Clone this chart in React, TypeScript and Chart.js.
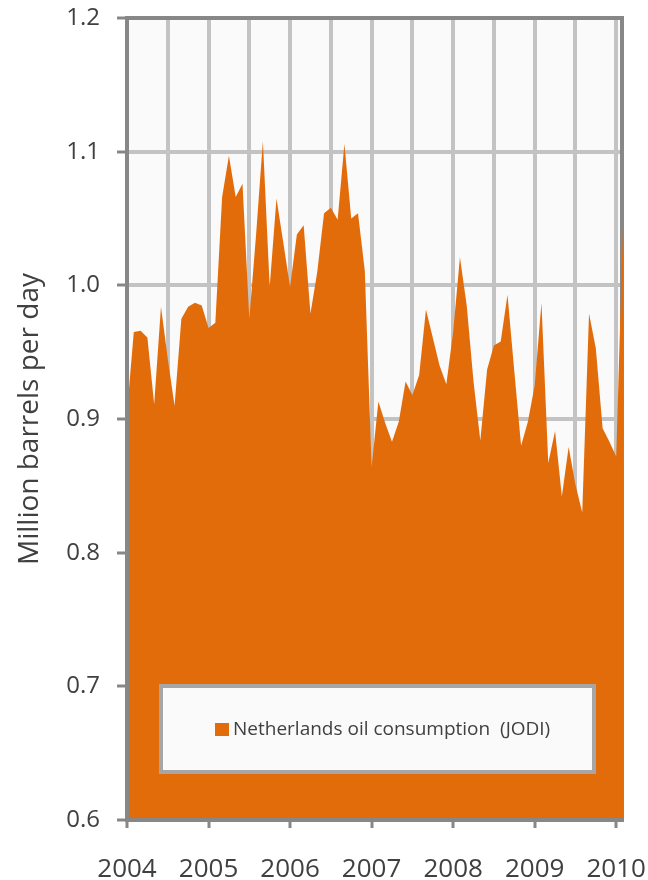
import React, { useEffect, useRef } from "react";
import { Chart, registerables } from "chart.js";

Chart.register(...registerables);

// ---- data (million barrels per day, monthly, Jan 2004 – Feb 2010) ----
const startYear = 2004;
const yearTicks = [2004, 2005, 2006, 2007, 2008, 2009, 2010];
const halfYearTicks = [2004.5, 2005.5, 2006.5, 2007.5, 2008.5, 2009.5];
const yTicks = [0.6, 0.7, 0.8, 0.9, 1.0, 1.1, 1.2];

const consumption2004 = [0.905, 0.965, 0.966, 0.961, 0.911, 0.984, 0.945, 0.910, 0.975, 0.984, 0.987, 0.985];
const consumption2005 = [0.968, 0.972, 1.066, 1.097, 1.066, 1.076, 0.975, 1.038, 1.108, 0.999, 1.065, 1.032];
const consumption2006 = [0.999, 1.038, 1.045, 0.979, 1.010, 1.054, 1.058, 1.049, 1.106, 1.050, 1.054, 1.011];
const consumption2007 = [0.864, 0.913, 0.897, 0.883, 0.898, 0.928, 0.918, 0.933, 0.982, 0.961, 0.940, 0.926];
const consumption2008 = [0.965, 1.021, 0.985, 0.928, 0.884, 0.937, 0.955, 0.958, 0.993, 0.936, 0.880, 0.898];
const consumption2009 = [0.925, 0.987, 0.867, 0.891, 0.842, 0.879, 0.851, 0.830, 0.979, 0.953, 0.893, 0.883];
const consumption2010 = [0.872, 1.044];

const seriesLabel = "Netherlands oil consumption  (JODI)";
const yAxisTitle = "Million barrels per day";

const ORANGE = "#E36C0A";
const AXIS_GREY = "#878787";
const GRID_GREY = "#C3C3C3";
const TEXT = "#404040";
const FONT = "'Open Sans', 'DejaVu Sans', sans-serif";

const allValues = [
  ...consumption2004,
  ...consumption2005,
  ...consumption2006,
  ...consumption2007,
  ...consumption2008,
  ...consumption2009,
  ...consumption2010,
];
const points = allValues.map((v, i) => ({ x: startYear + i / 12, y: v }));

const plotBackground = {
  id: "plotBackground",
  beforeDraw(chart: any) {
    const { ctx, chartArea } = chart;
    ctx.save();
    ctx.fillStyle = "#FAFAFA";
    ctx.fillRect(chartArea.left, chartArea.top, chartArea.right - chartArea.left, chartArea.bottom - chartArea.top);
    ctx.restore();
  },
};

// right edge of the frame sits under the area, the other three edges over it
const plotFrame = {
  id: "plotFrame",
  beforeDatasetsDraw(chart: any) {
    const { ctx, chartArea } = chart;
    ctx.save();
    ctx.strokeStyle = AXIS_GREY;
    ctx.lineWidth = 4;
    ctx.beginPath();
    ctx.moveTo(chartArea.right - 1, chartArea.top - 2);
    ctx.lineTo(chartArea.right - 1, chartArea.bottom);
    ctx.stroke();
    ctx.restore();
  },
  afterDatasetsDraw(chart: any) {
    const { ctx, chartArea } = chart;
    ctx.save();
    ctx.strokeStyle = AXIS_GREY;
    ctx.lineWidth = 4;
    ctx.beginPath();
    ctx.moveTo(chartArea.right + 1, chartArea.top);
    ctx.lineTo(chartArea.left, chartArea.top);
    ctx.lineTo(chartArea.left, chartArea.bottom);
    ctx.lineTo(chartArea.right + 1, chartArea.bottom);
    ctx.stroke();
    ctx.restore();
  },
};

const boxedLegend = {
  id: "boxedLegend",
  afterDraw(chart: any) {
    const { ctx } = chart;
    const ds = chart.data.datasets[0];
    ctx.save();
    ctx.fillStyle = "#FAFAFA";
    ctx.fillRect(161, 686, 433, 86);
    ctx.strokeStyle = "#A6A6A6";
    ctx.lineWidth = 4;
    ctx.strokeRect(161, 686, 433, 86);
    ctx.fillStyle = ds.backgroundColor;
    ctx.fillRect(215, 723, 14, 13);
    ctx.fillStyle = TEXT;
    ctx.font = `19px ${FONT}`;
    ctx.textBaseline = "middle";
    ctx.textAlign = "left";
    ctx.fillText(ds.label, 233, 730);
    ctx.restore();
  },
};

const zeroPadding = (scale: any) => {
  scale.paddingTop = 0;
  scale.paddingBottom = 0;
  scale.paddingLeft = 0;
  scale.paddingRight = 0;
};

export default function App() {
  const canvasRef = useRef<HTMLCanvasElement | null>(null);

  useEffect(() => {
    if (!canvasRef.current) return;
    const chart = new Chart(canvasRef.current, {
      type: "line",
      data: {
        datasets: [
          {
            label: seriesLabel,
            data: points,
            backgroundColor: ORANGE,
            borderColor: ORANGE,
            borderWidth: 0,
            pointRadius: 0,
            fill: "start",
            tension: 0,
          },
        ],
      },
      options: {
        responsive: false,
        animation: false,
        layout: { padding: { top: 18, right: 25, left: 0, bottom: 0 } },
        plugins: {
          legend: { display: false },
          tooltip: { enabled: false },
        },
        scales: {
          x: {
            type: "linear",
            min: startYear,
            max: startYear + (allValues.length - 1) / 12,
            afterBuildTicks: (scale: any) => {
              scale.ticks = [...yearTicks, ...halfYearTicks]
                .sort((a, b) => a - b)
                .map((v) => ({ value: v }));
            },
            afterFit: (scale: any) => {
              scale.height = 60;
              zeroPadding(scale);
            },
            border: { display: false },
            grid: {
              color: GRID_GREY,
              lineWidth: 4,
              drawTicks: true,
              tickLength: 8,
              tickWidth: 3,
              tickColor: (c: any) =>
                c.tick && yearTicks.includes(c.tick.value) ? AXIS_GREY : "rgba(0,0,0,0)",
            },
            ticks: {
              autoSkip: false,
              maxRotation: 0,
              minRotation: 0,
              padding: 26,
              color: TEXT,
              font: { family: FONT, size: 26 },
              callback: (v: any) => (yearTicks.includes(v) ? String(v) : ""),
            },
          },
          y: {
            type: "linear",
            min: 0.6,
            max: 1.2,
            afterBuildTicks: (scale: any) => {
              scale.ticks = yTicks.map((v) => ({ value: v }));
            },
            afterFit: (scale: any) => {
              scale.width = 127;
              zeroPadding(scale);
            },
            border: { display: false },
            grid: {
              color: GRID_GREY,
              lineWidth: 4,
              drawTicks: true,
              tickLength: 10,
              tickWidth: 3,
              tickColor: AXIS_GREY,
            },
            ticks: {
              padding: 17,
              color: TEXT,
              font: { family: FONT, size: 24 },
              callback: (v: any) => Number(v).toFixed(1),
            },
            title: {
              display: true,
              text: yAxisTitle,
              color: TEXT,
              font: { family: FONT, size: 28 },
              padding: { top: 13, bottom: 0 },
            },
          },
        },
      },
      plugins: [plotBackground, plotFrame, boxedLegend],
    } as any);
    return () => chart.destroy();
  }, []);

  return (
    <div style={{ position: "fixed", left: 0, top: 0, width: 648, height: 880, background: "#FFFFFF" }}>
      <canvas ref={canvasRef} width={648} height={880} style={{ display: "block", width: 648, height: 880 }} />
    </div>
  );
}
